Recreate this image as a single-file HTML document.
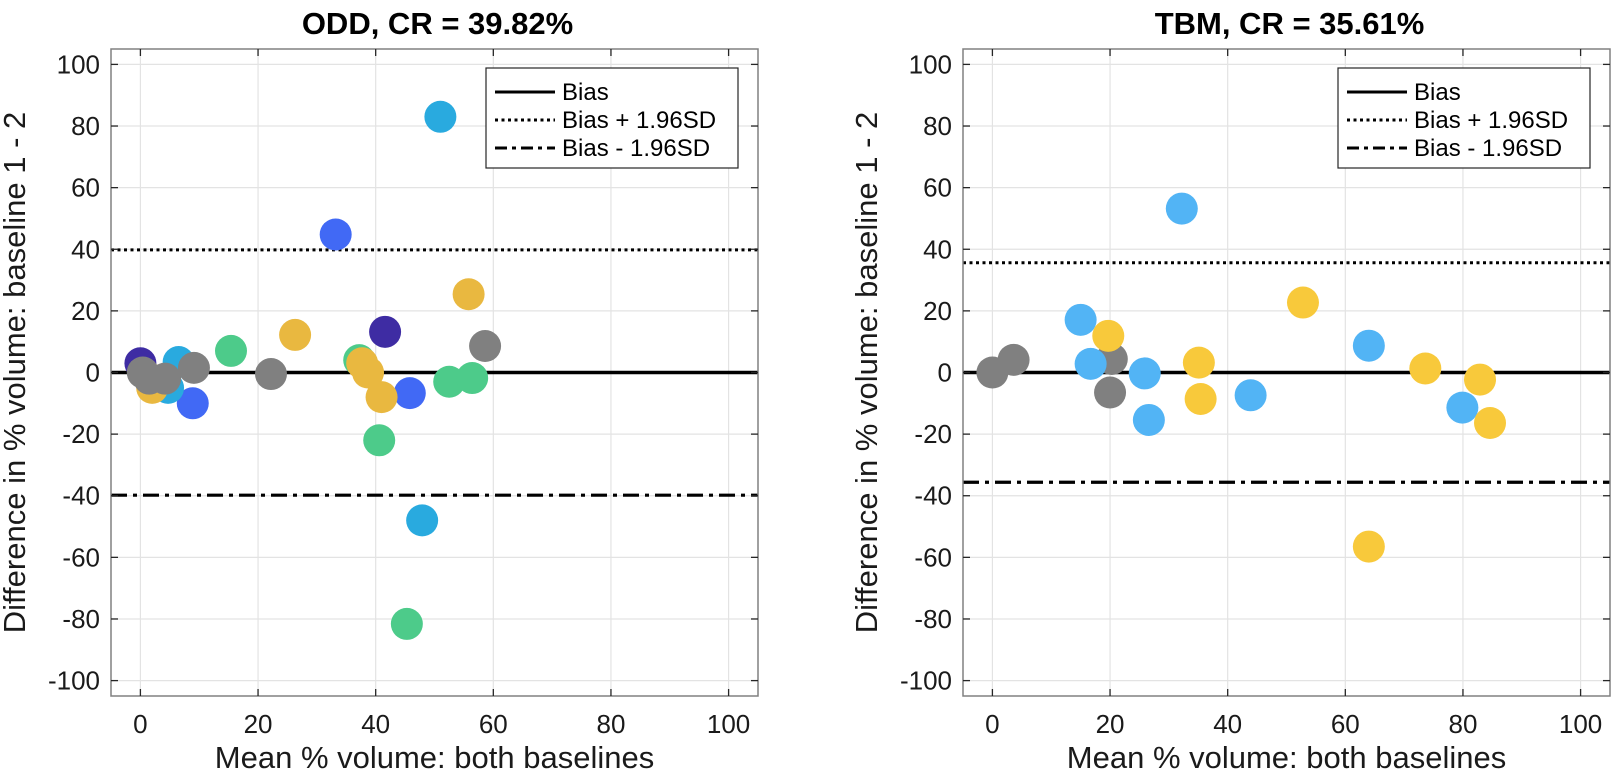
<!DOCTYPE html>
<html><head><meta charset="utf-8"><style>
html,body{margin:0;padding:0;background:#fff;}
svg{display:block;font-family:"Liberation Sans",Arial,sans-serif;}
</style></head><body>
<svg id="fig" width="1616" height="780" viewBox="0 0 1616 780" xmlns="http://www.w3.org/2000/svg"></svg>
<script>
// ---- data ----
const xTicks = [0,20,40,60,80,100];
const yTicks = [-100,-80,-60,-40,-20,0,20,40,60,80,100];
const oddTitle = "ODD, CR = 39.82%";
const tbmTitle = "TBM, CR = 35.61%";
const oddBias = 0;
const oddLimit = 39.82;
const tbmBias = 0;
const tbmLimit = 35.61;
// ODD series
const oddIndigoX = [0, 41.6];
const oddIndigoY = [3, 13.2];
const oddBlueX = [8.9, 33.2, 45.8];
const oddBlueY = [-10, 44.8, -6.7];
const oddGreenX = [15.4, 37.2, 40.6, 52.5, 56.4, 45.3];
const oddGreenY = [7, 4, -22, -3, -1.8, -81.6];
const oddCyanX = [6.5, 4.7, 51, 47.9];
const oddCyanY = [3.4, -5, 83, -48];
const oddYellowX = [2.1, 2, 26.3, 37.7, 38.7, 41, 55.8];
const oddYellowY = [-2.4, -5, 12.2, 3, 0, -8, 25.4];
const oddGrayX = [0.4, 1.5, 4.2, 9.1, 22.2, 58.6];
const oddGrayY = [0, -2, -2, 1.5, -0.5, 8.6];
// TBM series
const tbmGrayX = [0, 3.6, 20.3, 20];
const tbmGrayY = [0, 4.1, 4.4, -6.5];
const tbmBlueX = [15, 16.7, 25.9, 26.6, 32.2, 43.9, 64, 79.9];
const tbmBlueY = [17.1, 2.8, -0.3, -15.4, 53.2, -7.4, 8.7, -11.4];
const tbmYellowX = [19.7, 35.1, 35.4, 52.8, 64, 73.6, 82.9, 84.6];
const tbmYellowY = [11.9, 3.2, -8.6, 22.7, -56.5, 1.3, -2.3, -16.4];

const NS = "http://www.w3.org/2000/svg";
const svg = document.getElementById('fig');
function mk(tag, attrs, parent){
  const e = document.createElementNS(NS, tag);
  for (const k in attrs) e.setAttribute(k, attrs[k]);
  (parent||svg).appendChild(e);
  return e;
}
const TOP = 49, H = 647, W = 647;
function makeAxes(left){
  return {
    x: v => left + (v + 5) / 110 * W,
    y: v => TOP + (105 - v) / 210 * H
  };
}
function drawPanel(prefix, left, title, bias, limit, series){
  const ax = makeAxes(left);
  const g = mk('g', {});
  
  
  xTicks.forEach(t => {
    const l = mk('line', {x1: ax.x(t), x2: ax.x(t), y1: TOP, y2: TOP + H, stroke: '#e3e3e3', 'stroke-width': 1.2}, g);
    
    
  });
  yTicks.forEach(t => {
    const l = mk('line', {x1: left, x2: left + W, y1: ax.y(t), y2: ax.y(t), stroke: '#e3e3e3', 'stroke-width': 1.2}, g);
    
    
  });
  const bl = mk('line', {x1: left, x2: left + W, y1: ax.y(bias), y2: ax.y(bias), stroke: '#000', 'stroke-width': 3.6}, g);
  
  
  const ul = mk('line', {x1: left, x2: left + W, y1: ax.y(bias + limit), y2: ax.y(bias + limit), stroke: '#000', 'stroke-width': 3, 'stroke-dasharray': '3,3.5'}, g);
  
  
  const ll = mk('line', {x1: left, x2: left + W, y1: ax.y(bias - limit), y2: ax.y(bias - limit), stroke: '#000', 'stroke-width': 3.2, 'stroke-dasharray': '16,6,4,6'}, g);
  
  
  series.forEach(s => {
    s.xs.forEach((xv, i) => {
      const c = mk('circle', {cx: ax.x(xv), cy: ax.y(s.ys[i]), r: 16, fill: s.color}, g);
      
      
    });
  });
  const box = mk('rect', {x: left, y: TOP, width: W, height: H, fill: 'none', stroke: '#808080', 'stroke-width': 1.5}, g);
  
  
  xTicks.forEach(t => {
    mk('line', {x1: ax.x(t), x2: ax.x(t), y1: TOP + H, y2: TOP + H - 7, stroke: '#262626', 'stroke-width': 1.3}, g);
    mk('line', {x1: ax.x(t), x2: ax.x(t), y1: TOP, y2: TOP + 7, stroke: '#262626', 'stroke-width': 1.3}, g);
    const tx = mk('text', {x: ax.x(t), y: 733, 'font-size': 26, 'text-anchor': 'middle', fill: '#1a1a1a'}, g);
    tx.textContent = t;
    
    
  });
  yTicks.forEach(t => {
    mk('line', {x1: left, x2: left + 7, y1: ax.y(t), y2: ax.y(t), stroke: '#262626', 'stroke-width': 1.3}, g);
    mk('line', {x1: left + W, x2: left + W - 7, y1: ax.y(t), y2: ax.y(t), stroke: '#262626', 'stroke-width': 1.3}, g);
    const ty = mk('text', {x: left - 11, y: ax.y(t) + 9, 'font-size': 26, 'text-anchor': 'end', fill: '#1a1a1a'}, g);
    ty.textContent = t;
    
    
  });
  const tt = mk('text', {x: left + W / 2 + 3, y: 34, 'font-size': 31, 'font-weight': 'bold', 'text-anchor': 'middle', fill: '#000'}, g);
  tt.textContent = title;
  
  
  const xl = mk('text', {x: left + W / 2, y: 768, 'font-size': 31, 'text-anchor': 'middle', fill: '#1a1a1a'}, g);
  xl.textContent = 'Mean % volume: both baselines';
  
  
  const yx = left - 86, yy = TOP + H / 2;
  const yl = mk('text', {x: yx, y: yy, 'font-size': 31, 'text-anchor': 'middle', fill: '#1a1a1a', transform: 'rotate(-90 ' + yx + ' ' + yy + ')'}, g);
  yl.textContent = 'Difference in % volume: baseline 1 - 2';
  
  
  const lx = left + 375, ly = 68;
  const lg = mk('g', {}, g);
  
  
  mk('rect', {x: lx, y: ly, width: 252, height: 100, fill: '#fff', stroke: '#262626', 'stroke-width': 1.2}, lg);
  const entries = [['Bias', 'none'], ['Bias + 1.96SD', '3,3.5'], ['Bias - 1.96SD', '12,5,4,5']];
  entries.forEach((e, i) => {
    const yy2 = ly + 24 + i * 28;
    mk('line', {x1: lx + 9, x2: lx + 69, y1: yy2, y2: yy2, stroke: '#000', 'stroke-width': 3, 'stroke-dasharray': e[1]}, lg);
    const t = mk('text', {x: lx + 76, y: yy2 + 8, 'font-size': 24, fill: '#000'}, lg);
    t.textContent = e[0];
    
    
  });
}
drawPanel('odd', 111, oddTitle, oddBias, oddLimit, [
  {name: 'indigo', xs: oddIndigoX, ys: oddIndigoY, color: '#3e2ca3'},
  {name: 'blue', xs: oddBlueX, ys: oddBlueY, color: '#4169f5'},
  {name: 'green', xs: oddGreenX, ys: oddGreenY, color: '#4dcb8a'},
  {name: 'cyan', xs: oddCyanX, ys: oddCyanY, color: '#29aadf'},
  {name: 'yellow', xs: oddYellowX, ys: oddYellowY, color: '#e9b840'},
  {name: 'gray', xs: oddGrayX, ys: oddGrayY, color: '#808080'}
]);
drawPanel('tbm', 963, tbmTitle, tbmBias, tbmLimit, [
  {name: 'gray', xs: tbmGrayX, ys: tbmGrayY, color: '#808080'},
  {name: 'blue', xs: tbmBlueX, ys: tbmBlueY, color: '#52b4f5'},
  {name: 'yellow', xs: tbmYellowX, ys: tbmYellowY, color: '#f8c93b'}
]);
</script>
</body></html>
